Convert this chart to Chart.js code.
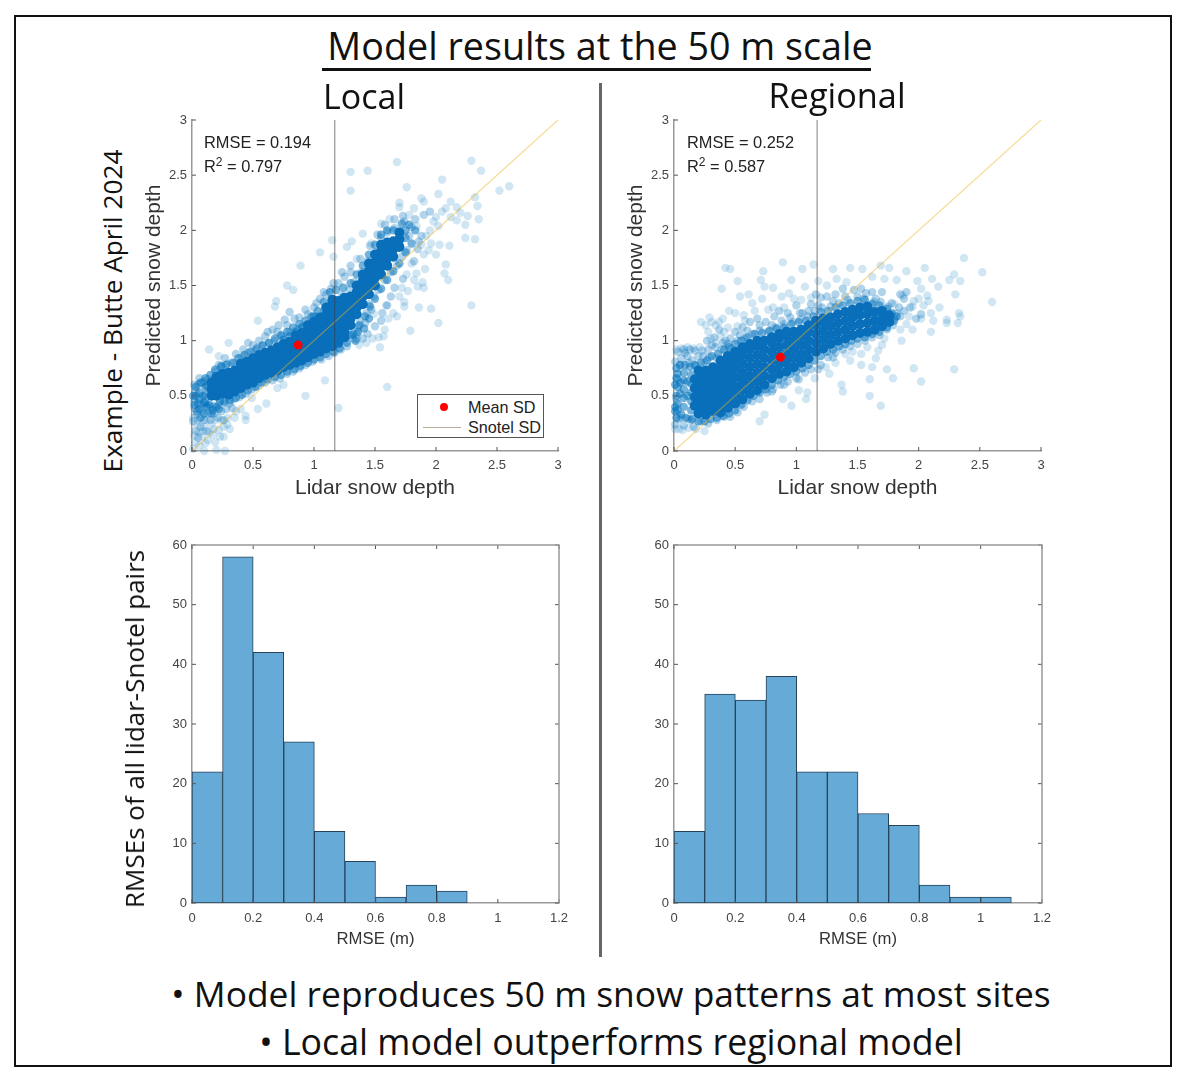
<!DOCTYPE html>
<html>
<head>
<meta charset="utf-8">
<title>Model results at the 50 m scale</title>
<script src="https://cdn.jsdelivr.net/npm/chart.js@4"></script>
<style>
  html, body { margin: 0; padding: 0; background: #fff; }
  #page { position: relative; width: 1179px; height: 1067px; overflow: hidden; font-family: "Open Sans", sans-serif; color: #111; }
  #frame { position: absolute; left: 14px; top: 15px; width: 1154px; height: 1048px; border: 2px solid #111; }
  #divider { position: absolute; left: 599px; top: 83px; width: 3px; height: 874px; background: #666; }
  #underline { position: absolute; left: 322px; top: 68px; width: 549px; height: 3px; background: #111; }
  canvas { position: absolute; }
  .big { position: absolute; white-space: nowrap; transform: translate(-50%, -50%); }
  .vert { position: absolute; white-space: nowrap; transform: translate(-50%, -50%) rotate(-90deg); }
  .stat { position: absolute; white-space: nowrap; font: 16.4px "Liberation Sans", sans-serif; color: #222; }
  .stat sup { font-size: 12px; line-height: 0; }
  #legend { position: absolute; left: 417px; top: 394px; width: 127px; height: 44px; box-sizing: border-box; border: 1px solid #555; background: #fff; font: 16.2px "Liberation Sans", sans-serif; color: #222; }
  #legend span { position: absolute; white-space: nowrap; }
</style>
</head>
<body>
<div id="page">
  <div id="frame"></div>
  <canvas id="scatterLocal" width="440" height="400" style="left:140px;top:105px"></canvas>
  <canvas id="scatterRegional" width="440" height="400" style="left:622px;top:105px"></canvas>
  <canvas id="histLocal" width="440" height="430" style="left:140px;top:530px"></canvas>
  <canvas id="histRegional" width="440" height="430" style="left:622px;top:530px"></canvas>
  <div id="divider"></div>
  <div id="underline"></div>
  <div class="big" style="left:600px;top:45px;font-size:37.7px">Model results at the 50 m scale</div>
  <div class="big" style="left:364px;top:96px;font-size:34px">Local</div>
  <div class="big" style="left:837px;top:94px;font-size:34.3px">Regional</div>
  <div class="vert" style="left:112px;top:311px;font-size:26.2px">Example - Butte April 2024</div>
  <div class="vert" style="left:134px;top:729px;font-size:26px">RMSEs of all lidar-Snotel pairs</div>
  <div class="big" style="left:611px;top:993px;font-size:35.4px">• Model reproduces 50 m snow patterns at most sites</div>
  <div class="big" style="left:611px;top:1041px;font-size:35.75px">• Local model outperforms regional model</div>
  <div class="stat" style="left:204px;top:133px">RMSE = 0.194</div>
  <div class="stat" style="left:204px;top:157px">R<sup>2</sup> = 0.797</div>
  <div class="stat" style="left:687px;top:133px">RMSE = 0.252</div>
  <div class="stat" style="left:687px;top:157px">R<sup>2</sup> = 0.587</div>
  <div id="legend">
    <span style="left:22px;top:8px;width:8px;height:8px;border-radius:50%;background:#f00"></span>
    <span style="left:50px;top:3px">Mean SD</span>
    <span style="left:5px;top:32px;width:38px;height:1px;background:#b5ad95"></span>
    <span style="left:50px;top:23px">Snotel SD</span>
  </div>
</div>

<script>
// values
const scatterTicks = [0, 0.5, 1, 1.5, 2, 2.5, 3];
const histXTicks = [0, 0.2, 0.4, 0.6, 0.8, 1, 1.2];
const histYTicks = [0, 10, 20, 30, 40, 50, 60];

const snotelX = [1.17, 1.17];
const snotelY = [0, 3];
const oneToOne = [0, 3];
const meanLocal = [0.87, 0.96];
const meanRegional = [0.87, 0.85];

const binCentersLocal = [0.05, 0.15, 0.25, 0.35, 0.45, 0.55, 0.65, 0.75, 0.85];
const countsLocal = [22, 58, 42, 27, 12, 7, 1, 3, 2];
const binCentersRegional = [0.05, 0.15, 0.25, 0.35, 0.45, 0.55, 0.65, 0.75, 0.85, 0.95, 1.05];
const countsRegional = [12, 35, 34, 38, 22, 22, 15, 13, 3, 1, 1];

// dense part of the clouds: [x, y, y, y ...]
const coreLocal = [
  [0.16,0.5,0.56,0.62],[0.2,0.5,0.56,0.61,0.67],[0.25,0.52,0.58,0.63,0.7],
  [0.3,0.51,0.57,0.64,0.71],[0.35,0.54,0.6,0.66,0.73],[0.4,0.57,0.63,0.68,0.74,0.79],[0.45,0.6,0.65,0.71,0.77,0.81],
  [0.5,0.62,0.68,0.74,0.79,0.84],[0.55,0.66,0.71,0.76,0.82,0.87],[0.6,0.69,0.74,0.79,0.84,0.89],[0.65,0.71,0.76,0.82,0.87,0.91],
  [0.7,0.73,0.78,0.84,0.89,0.94],[0.75,0.76,0.81,0.86,0.91,0.97],[0.8,0.78,0.83,0.88,0.94,0.99],[0.85,0.8,0.85,0.9,0.96,1.01,1.05],
  [0.9,0.82,0.87,0.92,0.98,1.03,1.07],[0.95,0.85,0.9,0.95,1.0,1.06,1.1,1.14],[1.0,0.88,0.93,0.98,1.03,1.08,1.13,1.17],[1.05,0.9,0.95,1.0,1.06,1.11,1.16,1.21],
  [1.1,0.93,0.98,1.03,1.08,1.13,1.19,1.24,1.3],[1.15,0.95,1.0,1.05,1.1,1.16,1.21,1.26,1.32,1.37],[1.2,0.98,1.03,1.08,1.14,1.19,1.24,1.3,1.36],
  [1.25,1.03,1.08,1.13,1.2,1.27,1.33,1.39],[1.3,1.14,1.2,1.27,1.33,1.4],[1.35,1.24,1.3,1.37,1.44,1.5],[1.4,1.33,1.4,1.47,1.54,1.6],
  [1.45,1.42,1.49,1.56,1.63,1.7],[1.5,1.5,1.57,1.64,1.71,1.78],[1.55,1.6,1.67,1.74,1.81,1.87],[1.6,1.68,1.75,1.82,1.89],
  [1.65,1.76,1.83,1.9],[1.7,1.85,1.92,1.98]
];
const coreRegional = [
  [0.17,0.41,0.49,0.57,0.65],[0.2,0.34,0.42,0.5,0.58,0.66,0.73],[0.23,0.38,0.46,0.54,0.62,0.7],[0.26,0.33,0.41,0.49,0.57,0.65,0.73],[0.29,0.37,0.45,0.53,0.61,0.69],
  [0.32,0.36,0.44,0.52,0.6,0.68,0.76],[0.35,0.4,0.48,0.56,0.64,0.72],[0.38,0.35,0.43,0.51,0.59,0.67,0.75,0.82],[0.41,0.43,0.51,0.59,0.67,0.75],[0.44,0.39,0.47,0.55,0.63,0.71,0.79,0.86],
  [0.47,0.45,0.53,0.61,0.69,0.77],[0.5,0.43,0.51,0.59,0.67,0.75,0.83,0.9],[0.56,0.47,0.55,0.63,0.71,0.79,0.87,0.94],[0.62,0.52,0.6,0.68,0.76,0.84,0.92,0.97],
  [0.68,0.55,0.63,0.71,0.79,0.87,0.95,1.0],[0.74,0.6,0.68,0.76,0.84,0.92,1.0],[0.8,0.66,0.74,0.82,0.9,0.98,1.03],[0.86,0.7,0.78,0.86,0.94,1.02,1.06],
  [0.92,0.72,0.8,0.88,0.96,1.04,1.08],[0.98,0.76,0.84,0.92,1.0,1.08],[1.04,0.8,0.88,0.96,1.04,1.1],[1.1,0.84,0.92,1.0,1.08,1.14],
  [1.16,0.9,0.98,1.06,1.14,1.18],[1.22,0.93,1.01,1.09,1.17,1.2],[1.28,0.97,1.05,1.13,1.21],[1.34,1.0,1.08,1.16,1.24],[1.4,1.02,1.1,1.18,1.26],
  [1.46,1.05,1.13,1.21,1.28],[1.52,1.07,1.15,1.23,1.3],[1.58,1.08,1.16,1.24,1.31],[1.64,1.1,1.18,1.26],[1.7,1.13,1.2,1.27],[1.76,1.17,1.23]
];

// darker edge right next to the dense part
const haloLocal = [
  [0.01,0.5],[0.02,0.42],[0.04,0.36],[0.07,0.3],[0.1,0.34],[0.12,0.4],[0.05,0.43],[0.09,0.5],[0.14,0.42],[0.17,0.37],[0.2,0.4],[0.23,0.45],[0.03,0.58],[0.07,0.62],[0.11,0.66],[0.15,0.69],
  [0.19,0.74],[0.24,0.77],[0.28,0.78],[0.33,0.8],[0.38,0.84],[0.43,0.87],[0.48,0.9],[0.53,0.93],[0.58,0.96],[0.63,0.98],[0.68,1.02],[0.73,1.05],[0.78,1.08],[0.83,1.12],[0.88,1.15],[0.93,1.18],
  [0.98,1.22],[1.03,1.27],[1.08,1.35],[1.13,1.44],[1.18,1.46],[1.24,1.48],[1.3,1.52],[0.26,0.45],[0.31,0.46],[0.36,0.48],[0.41,0.51],[0.46,0.55],[0.52,0.58],[0.57,0.62],[0.62,0.65],[0.68,0.67],
  [0.73,0.69],[0.78,0.72],[0.84,0.74],[0.89,0.77],[0.95,0.8],[1.0,0.83],[1.05,0.85],[1.1,0.88],[1.16,0.9],[1.21,0.93],[1.27,0.98],[1.32,1.06],[1.37,1.14],[1.42,1.22],[1.46,1.31],[1.5,1.38],
  [1.55,1.47],[1.6,1.55],[1.65,1.63],[1.7,1.7],[1.75,1.8],[1.8,1.88],[1.35,1.6],[1.4,1.68],[1.45,1.78],[1.5,1.87],[1.55,1.96],[1.6,2.0],[1.65,2.0],[1.72,2.06],[1.78,2.05],[1.83,2.0],
  [0.16,0.34],[0.06,0.38],[0.03,0.5],[0.12,0.59],[1.3,1.05],[1.36,1.08],[1.41,1.11],[1.45,1.2],[1.34,1.0],[0.22,0.38],[0.1,0.44],
  [0.06,0.47],[0.06,0.53],[0.11,0.44],[0.11,0.51],[0.11,0.58],[0.85,1.08],[0.8,1.04],[0.75,1.01],[0.9,1.12],[1.0,1.22],[1.75,1.93],[1.75,2.0]
];
const haloRegional = [
  [0.02,0.75],[0.05,0.78],[0.09,0.78],[0.13,0.76],[0.17,0.78],[0.22,0.8],[0.27,0.82],[0.31,0.86],[0.36,0.88],[0.41,0.92],[0.45,0.94],[0.5,0.97],[0.55,1.0],[0.6,1.03],[0.66,1.06],[0.72,1.07],
  [0.78,1.09],[0.84,1.11],[0.9,1.12],[0.96,1.15],[1.02,1.17],[1.08,1.18],[1.14,1.22],[1.2,1.26],[1.26,1.27],[1.32,1.3],[1.38,1.32],[1.44,1.34],[1.5,1.36],[1.56,1.37],[1.62,1.33],[1.68,1.32],
  [1.74,1.29],[0.02,0.3],[0.06,0.33],[0.1,0.3],[0.15,0.29],[0.2,0.27],[0.25,0.27],[0.3,0.29],[0.35,0.3],[0.4,0.32],[0.45,0.34],[0.5,0.37],[0.55,0.42],[0.6,0.46],[0.65,0.5],[0.7,0.53],
  [0.75,0.56],[0.8,0.6],[0.85,0.64],[0.9,0.67],[0.95,0.7],[1.0,0.72],[1.05,0.75],[1.1,0.78],[1.15,0.82],[1.2,0.86],[1.25,0.9],[1.3,0.92],[1.35,0.95],[1.4,0.97],[1.45,1.0],[1.5,1.02],
  [1.56,1.03],[1.62,1.06],[1.68,1.08],[1.74,1.12],[1.8,1.18],[1.78,1.25],[1.82,1.22],[0.01,0.4],[0.02,0.5],[0.01,0.6],[0.03,0.43],[0.02,0.66],[0.01,0.36],
  [0.03,0.37],[0.03,0.58],[0.03,0.7],[0.08,0.4],[0.08,0.48],[0.08,0.56],[0.08,0.64],[0.08,0.71],[0.14,0.37],[0.14,0.45],[0.14,0.53],[0.14,0.61],[0.14,0.69],[0.05,0.52],[0.11,0.5],[0.11,0.63],[0.05,0.62]
];

// fringe around the dense part
const fringeLocal = [
  [0.02,0.39],[0.03,0.54],[0.05,0.6],[0.04,0.33],[0.09,0.37],[0.08,0.62],[0.13,0.34],[0.13,0.65],[0.17,0.41],[0.19,0.72],[0.15,0.28],[0.22,0.42],[0.24,0.76],[0.27,0.44],[0.29,0.79],
  [0.31,0.43],[0.34,0.47],[0.35,0.8],[0.39,0.49],[0.41,0.85],[0.44,0.52],[0.46,0.89],[0.49,0.56],[0.52,0.91],[0.54,0.59],[0.57,0.95],[0.6,0.62],[0.63,0.98],[0.66,0.64],[0.68,1.0],
  [0.72,0.66],[0.74,1.04],[0.78,0.7],[0.8,1.08],[0.83,0.72],[0.86,1.1],[0.88,0.75],[0.91,1.13],[0.93,0.78],[0.97,1.16],[0.99,0.81],[1.02,1.22],[1.06,0.83],[1.08,1.27],[1.12,0.86],
  [1.12,1.32],[1.17,0.89],[1.17,1.37],[1.22,0.92],[1.23,1.41],[1.27,0.95],[1.29,1.46],[1.32,1.02],[1.33,1.53],[1.36,1.12],[1.38,1.18],[1.39,1.62],[1.43,1.25],[1.44,1.72],
  [1.45,1.33],[1.49,1.4],[1.5,1.8],[1.53,1.46],[1.55,1.93],[1.58,1.55],[1.6,1.98],[1.63,1.62],[1.66,2.02],[1.68,1.68],[1.72,1.76],[1.74,2.08],[1.76,1.82],[1.78,1.95],[1.8,2.03],
  [1.47,1.28],[1.42,1.16],[1.5,1.13],[1.35,1.06],[1.4,1.02],[1.56,1.25],[1.63,1.4],[1.66,1.48],[1.73,1.56],[1.82,1.72],[1.85,1.83],[1.88,1.95],[1.83,2.1],[1.9,2.14],[1.95,2.17],
  [0.01,0.27],[0.03,0.18],[0.07,0.22],[0.1,0.28],[0.12,0.18],[0.15,0.4],[0.18,0.34],[0.21,0.3],[0.24,0.36],[0.05,0.12],[0.08,0.42],[0.02,0.46],[0.26,0.28],[0.28,0.38],[0.33,0.39],
  [0.55,1.0],[0.6,1.04],[0.66,1.1],[0.71,1.14],[0.76,1.19],[0.8,1.26],[0.88,1.21],[0.93,1.28],[1.0,1.3],[1.05,1.38],[1.1,1.42],[1.14,1.47],[1.2,1.52],[1.25,1.58],[1.3,1.62],
  [0.02,0.6],[0.06,0.66],[0.1,0.63],[0.22,0.78],[0.27,0.84],[0.36,0.88],[0.46,0.98],[1.3,1.68],[1.38,1.74],[1.46,1.86],[1.52,1.96],[1.58,2.05],[1.66,2.1],[1.73,2.13],[1.86,1.9],
  [0.42,0.92],[0.5,0.96],[0.62,1.08],[0.7,1.08],[0.78,1.14],[0.84,1.2],[0.95,1.24],[1.02,1.34],[1.08,1.44],[1.16,1.52],[1.23,1.62],[1.35,1.02],[1.44,1.06],[1.55,1.18],[1.6,1.32]
];
const fringeRegional = [
  [0.01,0.24],[0.02,0.47],[0.01,0.81],[0.04,0.29],[0.05,0.78],[0.08,0.23],[0.09,0.89],[0.12,0.29],[0.12,0.8],[0.16,0.22],[0.17,0.91],[0.18,0.77],[0.22,0.27],[0.23,0.91],[0.25,0.8],
  [0.28,0.25],[0.29,0.85],[0.31,0.96],[0.35,0.28],[0.35,0.84],[0.39,0.92],[0.41,0.31],[0.42,1.0],[0.46,0.31],[0.47,0.93],[0.52,0.35],[0.52,1.0],[0.57,0.4],[0.58,1.02],[0.64,0.45],
  [0.64,1.06],[0.7,0.47],[0.7,1.09],[0.76,0.53],[0.77,1.08],[0.81,0.56],[0.83,1.12],[0.87,0.6],[0.9,1.15],[0.93,0.63],[0.97,1.17],[1.0,0.66],[1.03,1.19],[1.07,0.71],[1.09,1.22],
  [1.12,0.74],[1.15,1.27],[1.2,0.78],[1.21,1.3],[1.26,0.85],[1.28,1.31],[1.32,0.89],[1.35,1.34],[1.38,0.92],[1.42,1.37],[1.44,0.95],[1.5,1.4],[1.5,0.97],[1.57,1.43],[1.56,1.0],
  [1.62,1.03],[1.63,1.35],[1.68,1.05],[1.69,1.35],[1.74,1.1],[1.75,1.31],[1.8,1.2],[1.82,1.25],[1.79,1.14],[1.85,1.22],[1.88,1.38],[1.9,1.44],[1.85,1.42],[1.93,1.3],[1.98,1.2],[2.02,1.24],
  [0.06,0.3],[0.14,0.28],[0.03,0.65],[0.06,0.84],[0.13,0.92],[0.2,0.86],[0.27,1.0],[0.33,1.03],[0.37,1.1],[0.44,0.97],[0.5,1.08],[0.56,1.12],[0.62,1.17],[0.68,1.2],[0.75,1.17],
  [0.82,1.22],[0.86,1.27],[0.93,1.25],[1.0,1.32],[1.05,1.25],[1.12,1.33],[1.16,1.42],[1.2,1.39],[1.25,1.4],[1.32,1.42],[1.38,1.47],[1.47,1.46],[1.53,1.47],[1.62,1.44],[1.7,1.44],
  [0.03,0.9],[0.08,0.92],[0.11,0.86],[0.15,0.82],[0.24,0.86],[0.28,0.92],[0.34,0.94],[0.4,0.98],[0.46,1.02],[0.54,1.05],[0.6,1.09],[0.7,1.14],[0.8,1.14],[0.88,1.18],[0.95,1.21],
  [1.03,1.25],[1.1,1.27],[1.18,1.32],[1.3,1.36],[1.4,1.4],[1.55,1.38],[1.65,1.38],[1.78,1.34],[1.84,1.3],[1.88,1.27],[0.8,0.54],[0.9,0.6],[1.02,0.65],[1.18,0.74],[1.3,0.85]
];

// the loose points away from the cloud
const outliersLocal = [
  [1.68,2.62],[2.29,2.63],[2.37,2.54],[1.3,2.53],[1.44,2.54],[1.3,2.36],[2.05,2.46],[1.76,2.39],[2.52,2.36],[2.6,2.4],[2.32,2.3],[2.02,2.33],[1.88,2.29],[1.9,2.26],[1.7,2.25],[1.7,2.21],
  [2.12,2.26],[2.17,2.21],[2.34,2.22],[2.26,2.13],[2.35,2.1],[2.17,2.09],[2.24,2.05],[2.24,1.93],[2.32,1.92],[2.03,1.87],[2.11,1.86],[2.0,1.78],[2.08,1.69],[2.07,1.61],[2.1,1.55],[1.91,1.65],
  [1.84,1.61],[1.89,1.53],[1.9,1.48],[1.85,1.49],[1.74,1.35],[1.74,1.31],[1.86,1.3],[1.96,1.29],[2.29,1.32],[2.02,1.16],[1.79,1.09],[1.6,0.58],[1.2,0.39],[1.09,0.64],[0.93,0.5],[1.15,1.91],
  [1.31,1.9],[1.27,1.85],[1.05,1.8],[0.89,1.68],[1.16,1.76],[0.14,0.92],[0.3,0.98],[0.22,0.86],[0.78,1.5],[0.83,1.46],[0.54,1.18],[0.68,1.31],[0.69,1.36],[1.54,0.94],[1.43,0.98],[1.53,1.03],
  [1.58,1.1],[1.49,1.24],[1.59,1.32],[1.61,1.2],[1.68,1.22],[0.01,0.02],[0.1,0],[0.2,0.01],[0.27,0],[0.19,0.08],[0.26,0.13],[0.31,0.2],[0.44,0.28],[0.54,0.38],[0.61,0.43],[0.44,0.32],
  [0.03,0.08],[0.06,0.05],[0.13,0.1],[0.02,0.14],[0.17,0.15],[0.22,0.19],[0.1,0.22],[0.26,0.22],[0.06,0.17],[0.14,0.17],[0.29,0.3],[0.36,0.36],[0.49,0.48],[0.7,0.57],[0.75,0.6],
  [1.95,2.0],[1.98,2.08],[2.05,2.17],[2.08,2.2],[1.82,2.2],[1.78,2.14],[1.94,1.82],[1.9,1.78],[1.96,1.88],[1.8,1.7],[1.77,1.45],[1.47,1.88],[1.4,1.97],[1.55,2.06],[1.62,2.1],[1.35,1.74],
  [0.01,0.3],[0.04,0.24],[0.08,0.13],[0.11,0.07],[0.16,0.24],[0.19,0.28],[0.23,0.13],[0.24,0.28],[0.29,0.24],[0.12,0.28],[0.05,0.28],[0.09,0.18],[0.18,0.2],[0.35,0.3],[0.4,0.38],
  [1.92,1.95],[2.02,2.04],[2.0,2.12],[2.12,2.12],[2.2,2.16],[1.84,2.04],[1.88,1.87],[1.72,1.48],[1.76,1.6],[1.7,1.4],[1.65,1.25],[1.82,1.55],[1.57,1.04],[1.48,1.02],[1.37,0.96]
];
const outliersRegional = [
  [0.42,1.66],[0.46,1.65],[0.89,1.71],[1.14,1.69],[0.73,1.63],[1.05,1.65],[1.3,1.65],[1.44,1.66],[1.54,1.65],[1.69,1.68],[1.76,1.66],[1.9,1.63],[2.05,1.66],[2.37,1.75],[2.52,1.62],[2.29,1.6],
  [2.25,1.55],[2.34,1.54],[2.6,1.35],[2.3,1.42],[2.16,1.49],[2.11,1.56],[1.99,1.54],[2.02,1.47],[2.07,1.41],[2.17,1.3],[2.33,1.25],[2.34,1.22],[2.23,1.19],[2.23,1.16],[2.32,1.16],[2.1,1.08],
  [1.86,1.0],[1.67,0.91],[1.53,0.88],[1.53,0.78],[1.62,0.76],[1.74,0.74],[1.96,0.75],[2.29,0.74],[2.02,0.63],[1.79,0.66],[1.6,0.65],[1.6,0.5],[1.69,0.41],[1.37,0.6],[1.38,0.54],[1.09,0.53],
  [1.08,0.47],[0.96,0.41],[0.89,0.47],[0.74,0.33],[0.7,0.27],[0.22,1.17],[0.29,1.21],[0.39,1.47],[0.52,1.54],[0.54,1.4],[0.61,1.42],[0.71,1.55],[0.74,1.49],[0.81,1.48],[0.96,1.55],[1.07,1.49],
  [0.45,1.27],[0.5,1.25],[0.37,1.17],[0.34,1.14],[0.41,1.08],[0.57,1.23],[0.66,1.27],[0.72,1.38],[0.81,1.3],[0.88,1.4],[0.94,1.43],[0.9,1.3],[1.04,1.37],[1.12,1.39],[1.41,1.53],[1.62,1.58],
  [1.72,1.56],[1.82,1.55],[1.87,1.41],[1.95,1.31],[2.02,1.2],[2.1,1.25],[0.26,1.14],[0.31,1.17],[0.4,1.2],[1.25,1.5],[1.33,1.56],[1.18,1.54],[1.44,0.82],[1.27,0.7],[1.15,0.66],[1.02,0.55],
  [1.9,1.15],[1.95,1.1],[1.85,1.1],[2.0,1.38],[2.08,1.36],[1.8,1.33],[1.72,1.02],[1.65,0.84],[0.64,1.34],[0.77,1.28],[0.98,1.38],
  [0.01,0.2],[0.04,0.2],[0.07,0.19],[0.12,0.21],[0.18,0.2],[0.25,0.18],[0.02,0.92],[0.06,0.93],[0.11,0.94],[0.16,0.93],[0.21,0.94],[0.3,1.02],[0.28,1.08],[0.34,0.98],[0.38,1.04],
  [0.44,1.12],[0.52,1.13],[0.58,1.18],[1.24,0.76],[1.32,0.8],[1.4,0.88],[1.46,0.9],[1.58,0.94],[1.7,0.96],[1.92,1.22],[1.96,1.36],[2.04,1.32],[2.12,1.18]
];

const BLUE = "0,114,189";

function toPoints(pairs) {
  return pairs.map(p => ({ x: p[0], y: p[1] }));
}

function columnsToPoints(columns) {
  const pts = [];
  columns.forEach(col => col.slice(1).forEach(y => pts.push({ x: col[0], y })));
  return pts;
}

// MATLAB style inward ticks, plus the box on the histograms
function boxTicksPlugin(boxed) {
  return {
    id: "boxTicks",
    afterDatasetsDraw(chart) {
      const c = chart.ctx, a = chart.chartArea;
      c.save();
      c.strokeStyle = "#555";
      c.lineWidth = 1;
      c.beginPath();
      chart.scales.x.ticks.forEach(t => {
        const px = chart.scales.x.getPixelForValue(t.value);
        c.moveTo(px, a.bottom); c.lineTo(px, a.bottom - 4);
        if (boxed) { c.moveTo(px, a.top); c.lineTo(px, a.top + 4); }
      });
      chart.scales.y.ticks.forEach(t => {
        const py = chart.scales.y.getPixelForValue(t.value);
        c.moveTo(a.left, py); c.lineTo(a.left + 4, py);
        if (boxed) { c.moveTo(a.right, py); c.lineTo(a.right - 4, py); }
      });
      c.stroke();
      if (boxed) {
        c.strokeStyle = "#999";
        c.lineWidth = 1.5;
        c.beginPath();
        c.moveTo(a.left, a.top); c.lineTo(a.right, a.top); c.lineTo(a.right, a.bottom);
        c.stroke();
      }
      c.restore();
    }
  };
}

function axis(min, max, tickValues, titleText, titleSize, tickPad, titlePad, extra) {
  return Object.assign({
    type: "linear",
    min,
    max,
    offset: false,
    grid: { display: false, tickLength: 0 },
    border: { display: true, color: "#999", width: 1.5 },
    afterBuildTicks: s => { s.ticks = tickValues.map(v => ({ value: v })); },
    ticks: {
      autoSkip: false,
      maxRotation: 0,
      color: "#444",
      padding: tickPad,
      font: { family: "'Liberation Sans', sans-serif", size: 13 },
      callback: v => String(v)
    },
    title: {
      display: !!titleText,
      text: titleText,
      color: "#333",
      padding: { top: 2, bottom: titlePad },
      font: { family: "'Liberation Sans', sans-serif", size: titleSize }
    }
  }, extra);
}

function drawScatter(id, core, halo, fringe, outliers, mean, rightPad) {
  new Chart(document.getElementById(id), {
    type: "scatter",
    data: {
      datasets: [
        { data: [{ x: mean[0], y: mean[1] }], pointRadius: 4.5, backgroundColor: "#f00", borderWidth: 0, order: 0 },
        { data: snotelY.map((y, i) => ({ x: snotelX[i], y })), showLine: true, borderColor: "rgba(60,60,60,0.55)", borderWidth: 1.2, pointRadius: 0, order: 1 },
        { data: oneToOne.map(v => ({ x: v, y: v })), showLine: true, borderColor: "rgba(237,177,32,0.45)", borderWidth: 1.2, pointRadius: 0, order: 2 },
        { data: columnsToPoints(core), pointRadius: 5, backgroundColor: "rgb(10,111,186)", borderWidth: 0, order: 3 },
        { data: toPoints(halo), pointRadius: 4.2, backgroundColor: "rgba(" + BLUE + ",0.55)", borderWidth: 0, order: 4 },
        { data: toPoints(fringe), pointRadius: 4.2, backgroundColor: "rgba(" + BLUE + ",0.3)", borderWidth: 0, order: 5 },
        { data: toPoints(outliers), pointRadius: 4.2, backgroundColor: "rgba(" + BLUE + ",0.18)", borderWidth: 0, order: 6 }
      ]
    },
    options: {
      responsive: false,
      animation: false,
      clip: false,
      layout: { padding: { top: 15, right: rightPad, left: 0, bottom: 0 } },
      plugins: { legend: { display: false }, tooltip: { enabled: false } },
      scales: {
        x: axis(0, 3, scatterTicks, "Lidar snow depth", 21, 7, 4, { afterFit: s => { s.height = 54; } }),
        y: axis(0, 3, scatterTicks, "Predicted snow depth", 21, 5, 4, { afterFit: s => { s.width = 52; } })
      }
    },
    plugins: [boxTicksPlugin(false)]
  });
}

function drawHist(id, centers, counts, rightPad) {
  new Chart(document.getElementById(id), {
    type: "bar",
    data: {
      datasets: [{
        data: centers.map((x, i) => ({ x, y: counts[i] })),
        backgroundColor: "#66aad7",
        borderColor: "#26435a",
        borderWidth: 1,
        borderSkipped: false,
        barPercentage: 1,
        categoryPercentage: 1
      }]
    },
    options: {
      responsive: false,
      animation: false,
      layout: { padding: { top: 15, right: rightPad, left: 0, bottom: 0 } },
      plugins: { legend: { display: false }, tooltip: { enabled: false } },
      scales: {
        x: axis(0, 1.2, histXTicks, "RMSE (m)", 16.7, 8, 11, { afterFit: s => { s.height = 57; } }),
        y: axis(0, 60, histYTicks, "", 15, 5, 4, { afterFit: s => { s.width = 52; } })
      }
    },
    plugins: [boxTicksPlugin(true)]
  });
}

drawScatter("scatterLocal", coreLocal, haloLocal, fringeLocal, outliersLocal, meanLocal, 22);
drawScatter("scatterRegional", coreRegional, haloRegional, fringeRegional, outliersRegional, meanRegional, 21);
drawHist("histLocal", binCentersLocal, countsLocal, 21);
drawHist("histRegional", binCentersRegional, countsRegional, 20);
</script>
</body>
</html>
